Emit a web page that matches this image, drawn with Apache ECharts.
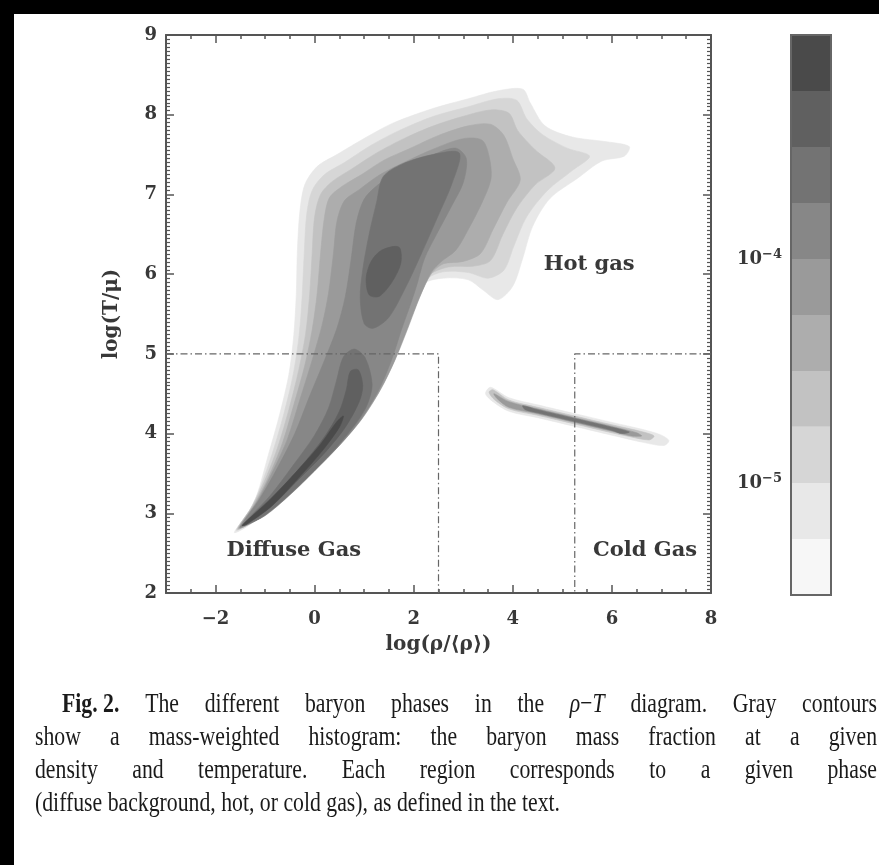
<!DOCTYPE html>
<html><head><meta charset="utf-8">
<script src="https://cdn.jsdelivr.net/npm/echarts@6/dist/echarts.min.js"></script>
<style>html,body{margin:0;padding:0;background:#fff}#c{width:879px;height:865px}</style>
</head><body><div id="c"></div>
<script>
// ---------------- DATA ----------------
const xTickLabels = [-2, 0, 2, 4, 6, 8];
const yTickLabels = [2, 3, 4, 5, 6, 7, 8, 9];
// colour-bar level edges (mass fraction), 0.25 dex steps
const levelEdges = [3.16e-6, 5.62e-6, 1.0e-5, 1.78e-5, 3.16e-5, 5.62e-5, 1.0e-4, 1.78e-4, 3.16e-4, 5.62e-4, 1.0e-3];
const levelColors = ['#f7f7f7', '#e8e8e8', '#d6d6d6', '#c2c2c2', '#adadad', '#9a9a9a', '#878787', '#737373', '#606060', '#4a4a4a'];
const colorbarTicks = [1e-5, 1e-4];

// contour polygons [log rho, log T]
const contourL1 = [[-1.62,2.76],[-1.35,3.0],[-1.17,3.22],[-0.94,3.72],[-0.71,4.23],[-0.52,4.74],[-0.42,5.24],[-0.37,5.75],[-0.35,6.26],[-0.3,6.77],[-0.2,7.12],[0.05,7.35],[0.45,7.5],[1.05,7.72],[1.6,7.9],[2.4,8.08],[3.1,8.2],[3.7,8.3],[4.2,8.32],[4.35,8.15],[4.65,7.86],[5.2,7.72],[5.9,7.66],[6.35,7.6],[6.25,7.48],[5.8,7.42],[5.3,7.2],[4.75,6.95],[4.4,6.6],[4.2,6.2],[4.0,5.85],[3.7,5.68],[3.4,5.8],[3.1,5.93],[2.6,5.95],[2.2,5.88],[1.95,5.6],[1.7,5.25],[1.45,4.85],[1.2,4.5],[0.85,4.17],[0.4,3.85],[0.0,3.6],[-0.5,3.28],[-1.0,3.0],[-1.4,2.82]];
const contourL2 = [[-1.58,2.79],[-1.3,3.05],[-1.1,3.32],[-0.85,3.76],[-0.62,4.25],[-0.43,4.75],[-0.31,5.25],[-0.25,5.75],[-0.21,6.26],[-0.16,6.75],[-0.05,7.05],[0.2,7.25],[0.6,7.4],[1.15,7.62],[1.7,7.8],[2.4,7.98],[3.1,8.1],[3.7,8.2],[4.08,8.18],[4.28,7.95],[4.6,7.75],[5.1,7.58],[5.55,7.48],[5.2,7.3],[4.7,7.05],[4.28,6.72],[4.02,6.35],[3.82,6.05],[3.5,5.95],[3.1,6.02],[2.6,6.03],[2.25,5.93],[2.0,5.63],[1.75,5.26],[1.5,4.86],[1.25,4.5],[0.9,4.17],[0.45,3.85],[0.0,3.58],[-0.5,3.27],[-1.0,2.99],[-1.4,2.83]];
const contourL3 = [[-1.56,2.8],[-1.25,3.1],[-1.0,3.42],[-0.75,3.82],[-0.52,4.3],[-0.32,4.8],[-0.18,5.26],[-0.1,5.75],[-0.05,6.26],[0.0,6.72],[0.12,7.0],[0.35,7.16],[0.75,7.32],[1.25,7.52],[1.8,7.7],[2.4,7.86],[3.0,7.98],[3.55,8.06],[3.92,8.02],[4.1,7.8],[4.45,7.56],[4.85,7.33],[4.45,7.12],[4.08,6.83],[3.8,6.5],[3.55,6.17],[3.2,6.1],[2.7,6.09],[2.3,5.98],[2.05,5.66],[1.8,5.28],[1.55,4.88],[1.28,4.52],[0.92,4.18],[0.48,3.86],[0.0,3.56],[-0.5,3.26],[-1.0,2.99],[-1.4,2.84]];
const contourL4 = [[-1.54,2.81],[-1.2,3.13],[-0.92,3.47],[-0.65,3.88],[-0.42,4.36],[-0.2,4.85],[-0.05,5.3],[0.05,5.75],[0.12,6.26],[0.2,6.72],[0.3,6.96],[0.55,7.1],[0.95,7.25],[1.4,7.43],[1.9,7.57],[2.5,7.74],[3.1,7.86],[3.55,7.88],[3.82,7.74],[4.0,7.45],[4.15,7.18],[3.88,6.9],[3.6,6.56],[3.35,6.26],[3.0,6.16],[2.6,6.13],[2.36,6.01],[2.1,5.69],[1.85,5.3],[1.6,4.9],[1.3,4.53],[0.94,4.18],[0.5,3.86],[0.0,3.55],[-0.5,3.25],[-1.0,2.98],[-1.4,2.84]];
const contourL5 = [[-1.52,2.82],[-1.15,3.16],[-0.85,3.52],[-0.55,3.93],[-0.3,4.42],[-0.05,4.92],[0.15,5.36],[0.28,5.76],[0.38,6.26],[0.45,6.66],[0.6,6.92],[0.9,7.06],[1.3,7.24],[1.8,7.4],[2.4,7.57],[3.0,7.7],[3.38,7.68],[3.52,7.48],[3.56,7.2],[3.38,6.9],[3.1,6.56],[2.85,6.3],[2.56,6.16],[2.36,6.03],[2.12,5.71],[1.88,5.32],[1.62,4.92],[1.32,4.54],[0.95,4.18],[0.5,3.85],[0.0,3.54],[-0.5,3.24],[-1.0,2.98],[-1.4,2.84]];
const contourL6 = [[-1.5,2.83],[-1.1,3.19],[-0.75,3.57],[-0.4,4.0],[-0.1,4.47],[0.2,4.92],[0.45,5.32],[0.62,5.72],[0.74,6.2],[0.84,6.64],[1.0,6.94],[1.3,7.13],[1.8,7.33],[2.4,7.5],[2.85,7.58],[3.06,7.45],[3.0,7.15],[2.76,6.85],[2.46,6.5],[2.22,6.2],[2.06,5.86],[1.95,5.65],[1.75,5.3],[1.55,4.92],[1.28,4.53],[0.92,4.17],[0.48,3.84],[0.0,3.53],[-0.5,3.23],[-1.0,2.97],[-1.4,2.85]];
const contourL7a = [[1.0,5.38],[0.92,5.7],[0.97,6.05],[1.1,6.5],[1.25,6.9],[1.38,7.22],[1.76,7.38],[2.38,7.5],[2.92,7.52],[2.78,7.15],[2.47,6.7],[2.15,6.25],[1.85,5.85],[1.5,5.46],[1.18,5.32]];
const contourL7b = [[-1.46,2.85],[-0.9,3.22],[-0.4,3.63],[0.0,3.98],[0.28,4.32],[0.44,4.66],[0.58,4.96],[0.8,5.06],[1.02,4.95],[1.16,4.62],[1.06,4.36],[0.86,4.15],[0.46,3.84],[0.0,3.54],[-0.5,3.24],[-1.0,2.98],[-1.36,2.86]];
const contourL8a = [[1.1,5.74],[1.04,5.95],[1.14,6.16],[1.35,6.3],[1.7,6.34],[1.74,6.14],[1.56,5.9],[1.3,5.72]];
const contourL8b = [[-1.46,2.85],[-0.8,3.24],[-0.3,3.57],[0.2,3.96],[0.5,4.28],[0.64,4.55],[0.72,4.78],[0.88,4.8],[0.97,4.6],[0.9,4.4],[0.62,4.08],[0.22,3.77],[-0.3,3.44],[-0.9,3.07],[-1.38,2.86]];
const contourL9 = [[-1.46,2.85],[-0.9,3.17],[-0.4,3.5],[0.1,3.85],[0.45,4.15],[0.58,4.22],[0.5,4.08],[0.15,3.78],[-0.3,3.46],[-0.85,3.1],[-1.38,2.86]];
// cold-gas streak
const coldL1 = [[3.45,4.5],[3.55,4.58],[3.92,4.45],[4.5,4.36],[5.25,4.25],[6.0,4.14],[6.63,4.05],[7.0,3.98],[7.15,3.91],[7.05,3.85],[6.63,3.89],[6.0,3.98],[5.25,4.09],[4.5,4.2],[3.92,4.28],[3.6,4.4]];
const coldL3 = [[3.52,4.52],[3.6,4.55],[3.92,4.42],[4.5,4.33],[5.25,4.22],[6.0,4.11],[6.63,4.02],[6.85,3.97],[6.75,3.92],[6.3,3.97],[6.0,4.01],[5.25,4.12],[4.5,4.23],[3.92,4.31],[3.62,4.43]];
const coldL5 = [[3.62,4.5],[3.92,4.4],[4.5,4.31],[5.25,4.2],[6.0,4.09],[6.5,4.01],[6.6,3.97],[6.4,3.97],[6.0,4.03],[5.25,4.14],[4.5,4.25],[3.92,4.33],[3.68,4.44]];
const coldL7 = [[4.2,4.35],[4.5,4.3],[5.25,4.19],[6.0,4.08],[6.35,4.02],[6.2,4.0],[6.0,4.04],[5.25,4.15],[4.5,4.26],[4.25,4.3]];

// [level index, polygon]
const contours = [
  [1, contourL1], [2, contourL2], [3, contourL3], [4, contourL4], [5, contourL5], [6, contourL6],
  [7, contourL7a], [7, contourL7b], [8, contourL8a], [8, contourL8b], [9, contourL9],
  [1, coldL1], [3, coldL3], [5, coldL5], [7, coldL7]
];

const diffuseBoundary = [[-3, 5], [2.5, 5], [2.5, 2]];
const coldBoundary = [[8, 5], [5.25, 5], [5.25, 2]];
const phaseLabels = [['Diffuse Gas', -0.42, 2.53], ['Hot gas', 5.54, 6.12], ['Cold Gas', 6.67, 2.53]];

const captionLines = [
  '**Fig.\u00a02.** The different baryon phases in the _ρ_−_T_ diagram. Gray contours',
  'show a mass-weighted histogram: the baryon mass fraction at a given',
  'density and temperature. Each region corresponds to a given phase',
  '(diffuse background, hot, or cold gas), as defined in the text.'
];

// ---------------- LAYOUT ----------------
const G = {left: 166, top: 35, width: 545, height: 558};
const CB = {left: 791, top: 35, width: 40, height: 560};
const FF = '"DejaVu Serif", "DejaVu Sans", serif';
const TXT = '#383838';
const AX = '#555';

function minus(v) { return String(v).replace('-', '\u2212'); }

function xAx(pos, major, labels) {
  return {
    gridIndex: 0, type: 'value', min: -3, max: 8, interval: major ? 1 : 0.5, position: pos,
    axisLine: {show: !major, onZero: false, lineStyle: {color: AX, width: 2}},
    axisTick: major ? {show: true, inside: true, length: 8, customValues: xTickLabels, lineStyle: {color: AX, width: 1.5}}
                    : {show: true, inside: true, length: 4, lineStyle: {color: AX, width: 1.5}},
    axisLabel: labels ? {show: true, customValues: xTickLabels, margin: 17, fontFamily: FF, fontWeight: 'bold', fontSize: 18, color: TXT,
                         formatter: v => (Math.abs(v % 2) < 1e-9 ? minus(v) : '')} : {show: false},
    splitLine: {show: false},
    name: labels ? 'log(\u03c1/\u27e8\u03c1\u27e9)' : '', nameLocation: 'middle', nameGap: 42,
    nameTextStyle: {fontFamily: FF, fontWeight: 'bold', fontSize: 20, color: TXT}
  };
}
function yAx(pos, labels) {
  return {
    gridIndex: 0, type: 'value', min: 2, max: 9, interval: 1, position: pos,
    axisLine: {show: true, onZero: false, lineStyle: {color: AX, width: 2}},
    axisTick: {show: true, inside: true, length: 8, lineStyle: {color: AX, width: 1.5}},
    minorTick: {show: true, splitNumber: 20, length: 4, lineStyle: {color: AX, width: 1.2}},
    axisLabel: labels ? {show: true, margin: 9, fontFamily: FF, fontWeight: 'bold', fontSize: 18, color: TXT} : {show: false},
    splitLine: {show: false},
    name: labels ? 'log(T/\u03bc)' : '', nameLocation: 'middle', nameGap: 44, nameRotate: 90,
    nameTextStyle: {fontFamily: FF, fontWeight: 'bold', fontSize: 20, color: TXT}
  };
}

// caption layout (justified text built from words)
const mctx = document.createElement('canvas').getContext('2d');
const CAP_SIZE = 28;
function runFont(r) { return (r.i ? 'italic ' : '') + (r.b ? 'bold ' : '') + CAP_SIZE + 'px "Liberation Serif", "Times New Roman", serif'; }
function parseWord(w) {
  const runs = [];
  const re = /\*\*([^*]+)\*\*|_([^_]+)_|([^*_]+)/g; let m;
  while ((m = re.exec(w))) {
    if (m[1]) runs.push({t: m[1], b: true}); else if (m[2]) runs.push({t: m[2], i: true}); else runs.push({t: m[3]});
  }
  runs.forEach(r => { mctx.font = runFont(r); r.w = mctx.measureText(r.t).width; });
  return {runs, w: runs.reduce((s, r) => s + r.w, 0)};
}
mctx.font = runFont({});
const SPACE = mctx.measureText(' ').width;
const capLayout = [
  {x0: 62, x1: 877, y: 705, justify: true},
  {x0: 35, x1: 877, y: 738, justify: true},
  {x0: 35, x1: 877, y: 771, justify: true},
  {x0: 35, x1: 560, y: 804, justify: false}
];
const parsed = captionLines.map(l => l.split(' ').map(parseWord));
const natural = ws => ws.reduce((s, w) => s + w.w, 0) + SPACE * (ws.length - 1);
const capScale = (capLayout[3].x1 - capLayout[3].x0) / natural(parsed[3]);
const captionGraphics = [];
parsed.forEach((ws, li) => {
  const L = capLayout[li];
  const wordsW = ws.reduce((s, w) => s + w.w, 0) * capScale;
  const gap = L.justify ? ((L.x1 - L.x0) - wordsW) / (ws.length - 1) : SPACE * capScale;
  let x = L.x0;
  ws.forEach(w => {
    w.runs.forEach(r => {
      captionGraphics.push({type: 'text', x: x, y: L.y, scaleX: capScale, z: 10,
        style: {text: r.t, font: runFont(r), fill: '#1a1a1a', verticalAlign: 'middle', align: 'left'}});
      x += r.w * capScale;
    });
    x += gap;
  });
});

function cbLabel(v) {
  const e = Math.round(Math.log10(v));
  return '{n|10}{e|' + minus(e) + '}';
}

const option = {
  animation: false,
  backgroundColor: '#ffffff',
  grid: [
    {left: G.left, top: G.top, width: G.width, height: G.height, containLabel: false},
    {left: CB.left, top: CB.top, width: CB.width, height: CB.height, containLabel: false}
  ],
  xAxis: [
    xAx('bottom', false, true), xAx('bottom', true, false), xAx('top', false, false), xAx('top', true, false),
    {gridIndex: 1, type: 'value', min: 0, max: 1, show: false}
  ],
  yAxis: [
    yAx('left', true), yAx('right', false),
    {gridIndex: 1, type: 'log', logBase: 10, min: levelEdges[0], max: levelEdges[levelEdges.length - 1], position: 'left',
     axisLine: {show: false}, axisTick: {show: false}, splitLine: {show: false}, minorTick: {show: false},
     axisLabel: {show: true, customValues: colorbarTicks, margin: 9, showMinLabel: true, showMaxLabel: true,
       formatter: cbLabel,
       rich: {n: {fontFamily: FF, fontWeight: 'bold', fontSize: 18, color: TXT, lineHeight: 22},
              e: {fontFamily: FF, fontWeight: 'bold', fontSize: 13, color: TXT, lineHeight: 14, verticalAlign: 'top'}}}}
  ],
  graphic: [
    {type: 'rect', shape: {x: 0, y: 0, width: 879, height: 14}, style: {fill: '#000'}, z: 20},
    {type: 'rect', shape: {x: 0, y: 0, width: 14, height: 865}, style: {fill: '#000'}, z: 20},
    {type: 'rect', shape: {x: CB.left, y: CB.top, width: CB.width, height: CB.height}, style: {fill: 'none', stroke: '#666', lineWidth: 2}, z: 15}
  ].concat(captionGraphics),
  series: [
    {
      type: 'custom', name: 'mass fraction contours', xAxisIndex: 0, yAxisIndex: 0, clip: true, z: 1,
      data: contours.map((c, i) => [c[1][0][0], c[1][0][1], i]),
      encode: {x: 0, y: 1},
      renderItem: (params, api) => {
        const c = contours[api.value(2)];
        const col = levelColors[c[0]];
        return {type: 'polygon', shape: {points: c[1].map(p => api.coord(p)), smooth: 0.3},
                style: {fill: col, stroke: col, lineWidth: 0.6}};
      }
    },
    {type: 'line', name: 'diffuse', xAxisIndex: 0, yAxisIndex: 0, data: diffuseBoundary, symbol: 'none', z: 5, silent: true,
     lineStyle: {color: '#666', width: 1.2, type: [7, 3, 1.5, 3]}},
    {type: 'line', name: 'cold', xAxisIndex: 0, yAxisIndex: 0, data: coldBoundary, symbol: 'none', z: 5, silent: true,
     lineStyle: {color: '#666', width: 1.2, type: [7, 3, 1.5, 3]}},
    {
      type: 'custom', name: 'phase labels', xAxisIndex: 0, yAxisIndex: 0, z: 6,
      data: phaseLabels.map((d, i) => [d[1], d[2], i]), encode: {x: 0, y: 1},
      renderItem: (params, api) => {
        const p = api.coord([api.value(0), api.value(1)]);
        return {type: 'text', x: p[0], y: p[1], style: {text: phaseLabels[api.value(2)][0],
          font: 'bold 21px ' + FF, fill: TXT, align: 'center', verticalAlign: 'middle'}};
      }
    },
    {
      type: 'custom', name: 'colorbar', xAxisIndex: 4, yAxisIndex: 2, z: 2,
      data: levelColors.map((c, i) => [0.5, levelEdges[i], levelEdges[i + 1], i]), encode: {x: 0, y: 1},
      renderItem: (params, api) => {
        const lo = api.coord([0, api.value(1)]);
        const hi = api.coord([1, api.value(2)]);
        return {type: 'rect', shape: {x: lo[0], y: hi[1], width: hi[0] - lo[0], height: lo[1] - hi[1]},
                style: {fill: levelColors[api.value(3)]}};
      }
    }
  ]
};
const chart = echarts.init(document.getElementById('c'));
chart.setOption(option);
</script></body></html>
